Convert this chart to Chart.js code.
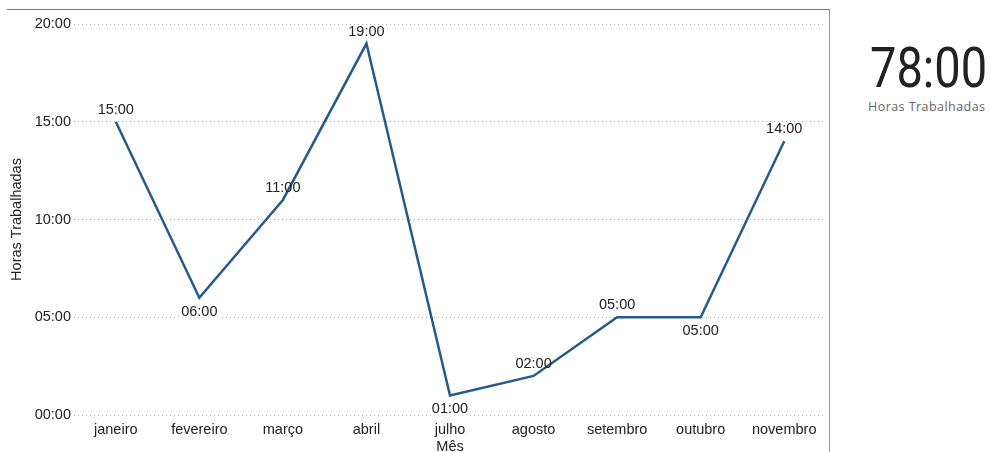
<!DOCTYPE html>
<html>
<head>
<meta charset="utf-8">
<script src="https://cdn.jsdelivr.net/npm/chart.js@4"></script>
<style>
  html, body { margin: 0; padding: 0; background: #fff; }
  body { width: 991px; height: 452px; position: relative; overflow: hidden; }
  #wrap { position: absolute; left: 0; top: 0; width: 829px; height: 456px; }
  #frameTop { position: absolute; left: 7px; top: 9px; width: 823px; height: 1px; background: #777; }
  #frameRight { position: absolute; left: 829px; top: 9px; width: 1px; height: 443px; background: #999; }
  #card { position: absolute; left: 850px; top: 38px; width: 160px; }
  #total { font-family: "Roboto", "DejaVu Sans Condensed", sans-serif; font-size: 56px; color: #222;
           transform: scaleX(0.84); transform-origin: left top; line-height: 60px; margin-left: 20px; }
  #totalLabel { font-family: "Open Sans", "Noto Sans", sans-serif; font-size: 12.5px; letter-spacing: 0.45px;
                color: #666; margin-left: 18px; }
</style>
</head>
<body>
<div id="wrap"><canvas id="hoursChart" width="829" height="456"></canvas></div>
<div id="frameTop"></div>
<div id="frameRight"></div>
<div id="card">
  <div id="total">78:00</div>
  <div id="totalLabel">Horas Trabalhadas</div>
</div>
<script>
const months = ['janeiro', 'fevereiro', 'março', 'abril', 'julho', 'agosto', 'setembro', 'outubro', 'novembro'];
const hours = [15, 6, 11, 19, 1, 2, 5, 5, 14];
// which labels sit below the point
const labelBelow = [false, true, false, false, true, false, false, true, false];
const yTicks = [0, 5, 10, 15, 20];

const FONT = '"Liberation Sans", Arial, sans-serif';
const fmt = (h) => String(h).padStart(2, '0') + ':00';

const labelY = (pt, i) => labelBelow[i] ? pt.y + 14 : pt.y - 12;

// simple data label plugin, no extra libraries available
const pointLabels = {
    id: 'pointLabels',
    beforeDatasetsDraw(chart) {
        // white boxes hide the gridlines behind labels, drawn before the line
        const ctx = chart.ctx;
        ctx.save();
        ctx.font = '14.5px ' + FONT;
        ctx.fillStyle = '#fff';
        chart.getDatasetMeta(0).data.forEach((pt, i) => {
            const w = ctx.measureText(fmt(hours[i])).width;
            ctx.fillRect(pt.x - w / 2 - 1, labelY(pt, i) - 6, w + 2, 12);
        });
        ctx.restore();
    },
    afterDatasetsDraw(chart) {
        const ctx = chart.ctx;
        ctx.save();
        ctx.font = '14.5px ' + FONT;
        ctx.textAlign = 'center';
        ctx.textBaseline = 'middle';
        ctx.fillStyle = '#222';
        chart.getDatasetMeta(0).data.forEach((pt, i) => {
            ctx.fillText(fmt(hours[i]), pt.x, labelY(pt, i));
        });
        ctx.restore();
    }
};

new Chart(document.getElementById('hoursChart').getContext('2d'), {
    type: 'line',
    data: {
        labels: months,
        datasets: [{
            data: hours,
            borderColor: '#245a8c',
            borderWidth: 2.5,
            pointRadius: 0,
            tension: 0,
            fill: false
        }]
    },
    options: {
        responsive: false,
        animation: false,
        layout: { padding: { top: 24, right: 3, left: 0, bottom: 0 } },
        plugins: { legend: { display: false }, tooltip: { enabled: false } },
        scales: {
            x: {
                offset: true,
                grid: { display: false, drawTicks: false },
                border: { display: false },
                ticks: { color: '#222', padding: 6, maxRotation: 0, font: { family: FONT, size: 14.5 } },
                title: { display: true, text: 'Mês', color: '#222', padding: { top: 0, bottom: 0 },
                         font: { family: FONT, size: 14.5 } },
                afterFit: (scale) => { scale.height = 41; }
            },
            y: {
                min: 0,
                max: 20,
                afterBuildTicks: (scale) => { scale.ticks = yTicks.map(v => ({ value: v })); },
                grid: { color: '#b0b0b0', lineWidth: 1, drawTicks: false },
                border: { display: false, dash: [1, 3] },
                ticks: { color: '#222', padding: 3, callback: (v) => fmt(v), font: { family: FONT, size: 14.5 } },
                title: { display: true, text: 'Horas Trabalhadas', color: '#222', padding: { top: 8, bottom: 0 },
                         font: { family: FONT, size: 14.5 } },
                afterFit: (scale) => { scale.width = 74; }
            }
        }
    },
    plugins: [pointLabels]
});
</script>
</body>
</html>
